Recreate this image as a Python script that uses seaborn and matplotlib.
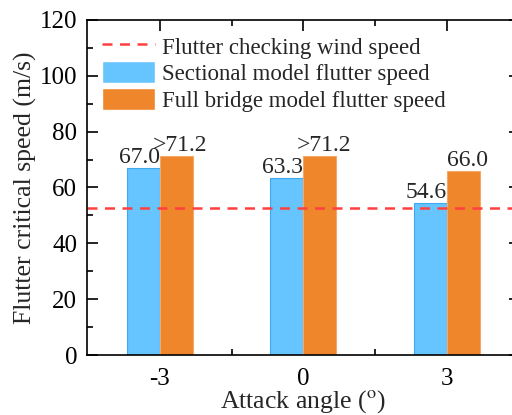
import pandas as pd
import matplotlib
matplotlib.use('Agg')
import matplotlib.pyplot as plt
from matplotlib.ticker import MultipleLocator
import seaborn as sns

angles = ['-3', '0', '3']
sectional = [67.0, 63.3, 54.6]
full_bridge = [71.2, 71.2, 66.0]
sectional_labels = ['67.0', '63.3', '54.6']
full_labels = ['>71.2', '>71.2', '66.0']
check_speed = 52.8

series_names = ['Sectional model flutter speed', 'Full bridge model flutter speed']

df = pd.DataFrame({
    'angle': angles * 2,
    'speed': sectional + full_bridge,
    'series': [series_names[0]] * 3 + [series_names[1]] * 3,
})

sns.set_style('ticks')
plt.rcParams['font.family'] = ['Liberation Serif', 'DejaVu Serif']
plt.rcParams['mathtext.fontset'] = 'stix'

fig = plt.figure(figsize=(5.12, 4.15), dpi=100)
ax = fig.add_axes([87/512, 60/415, 432.6/512, 335/415])

palette = {series_names[0]: '#66C4FF', series_names[1]: '#EF862C'}
sns.barplot(data=df, x='angle', y='speed', hue='series', palette=palette,
            width=0.46, saturation=1, ax=ax)

for bar in ax.containers[0]:
    bar.set_edgecolor('#3FA9EE')
    bar.set_linewidth(0.8)
for bar in ax.containers[1]:
    bar.set_edgecolor('#F6A868')
    bar.set_linewidth(0.8)

# value labels, nudged apart a little so neighbours don't collide
for bars, labs, dx in [(ax.containers[0], sectional_labels, -3),
                       (ax.containers[1], full_labels, 3)]:
    for bar, lab in zip(bars, labs):
        ax.annotate(lab, (bar.get_x() + bar.get_width() / 2, bar.get_height()),
                    xytext=(dx, 0), textcoords='offset points',
                    ha='center', va='bottom', fontsize=17)

ax.axhline(check_speed, color='#FF4040', linestyle=(0, (4, 3)), linewidth=1.8,
           label='Flutter checking wind speed')

handles, labels = ax.get_legend_handles_labels()
ax.get_legend().remove()
order = [labels.index('Flutter checking wind speed'),
         labels.index(series_names[0]), labels.index(series_names[1])]
ax.legend([handles[i] for i in order], [labels[i] for i in order],
          loc='upper left', bbox_to_anchor=(0.003, 0.997), frameon=False,
          fontsize=16.5, handlelength=2.3, handleheight=1.1,
          labelspacing=0.12, handletextpad=0.3, borderaxespad=0.2)

ax.set_xlim(-0.5075, 2.5075)
ax.set_ylim(0, 120)
ax.yaxis.set_major_locator(MultipleLocator(20))
ax.yaxis.set_minor_locator(MultipleLocator(10))
ax.set_xticks([0.5, 1.5], minor=True)
ax.tick_params(which='both', direction='in', top=True, right=True,
               labelsize=18, width=1.2, colors='black')
ax.tick_params(which='major', length=8)
ax.tick_params(which='minor', length=4)
ax.tick_params(axis='x', pad=9)
ax.tick_params(axis='y', pad=7)
for s in ax.spines.values():
    s.set_linewidth(1.2)
    s.set_color('black')

ax.set_xlabel('Attack angle ($^{\\mathrm{o}}$)', fontsize=18.5, labelpad=-1)
ax.set_ylabel('Flutter critical speed (m/s)', fontsize=18.5, labelpad=2)

fig.savefig('out.png', dpi=100)
